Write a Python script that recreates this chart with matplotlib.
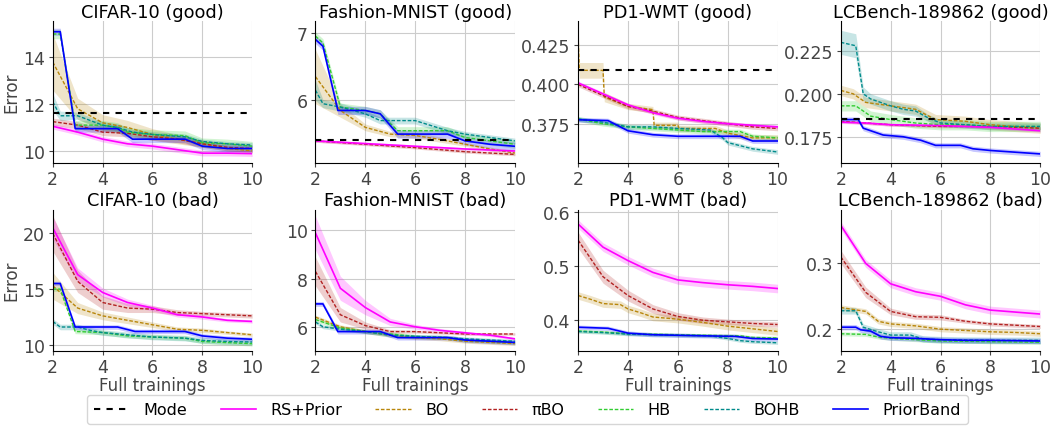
import matplotlib
matplotlib.use("Agg")
import matplotlib.pyplot as plt
import numpy as np

methods = ["Mode", "RS+Prior", "BO", "πBO", "HB", "BOHB", "PriorBand"]
colors = {"Mode": "black", "RS+Prior": "#ff00ff", "BO": "#b8860b", "πBO": "#b22222",
          "HB": "#32cd32", "BOHB": "#008b8b", "PriorBand": "#0000ff"}

titles = ["CIFAR-10 (good)", "Fashion-MNIST (good)", "PD1-WMT (good)", "LCBench-189862 (good)",
          "CIFAR-10 (bad)", "Fashion-MNIST (bad)", "PD1-WMT (bad)", "LCBench-189862 (bad)"]

# each series: (x, y, band half-width)
cifar_good = {
    "RS+Prior": ([2, 3, 4, 5, 6, 7, 8, 9, 10], [11.05, 10.8, 10.5, 10.3, 10.2, 10.05, 9.9, 9.9, 9.88], 0.12),
    "BO": ([2, 3, 4, 5, 6, 7, 8, 9, 10], [13.8, 11.8, 11.2, 11.0, 10.7, 10.5, 10.3, 10.1, 10.0],
           [1.2, 0.45, 0.35, 0.3, 0.25, 0.2, 0.15, 0.1, 0.1]),
    "πBO": ([2, 3, 4, 5, 6, 7, 8, 9, 10], [11.25, 11.1, 10.8, 10.75, 10.6, 10.5, 10.3, 10.15, 10.1], 0.15),
    "HB": ([2, 2.3, 2.9, 4, 4.6, 5, 6, 7.3, 8, 9, 10], [15.0, 15.0, 11.1, 11.1, 11.0, 10.8, 10.7, 10.65, 10.35, 10.3, 10.2], 0.2),
    "BOHB": ([2, 2.3, 3, 3.5, 4, 4.6, 5.2, 6, 7.3, 8, 9, 10],
             [12.1, 11.5, 11.5, 11.3, 11.1, 11.0, 10.8, 10.7, 10.6, 10.4, 10.3, 10.25],
             [0.35, 0.2, 0.15, 0.15, 0.15, 0.15, 0.12, 0.12, 0.12, 0.1, 0.1, 0.1]),
    "PriorBand": ([2, 2.3, 2.9, 4.6, 4.8, 5.2, 7.3, 8, 9, 10],
                  [15.1, 15.1, 10.95, 10.95, 10.8, 10.5, 10.5, 10.2, 10.1, 10.1], 0.15),
}
cifar_good_mode = 11.6

fmnist_good = {
    "RS+Prior": ([2, 4, 6, 8, 10], [5.4, 5.36, 5.32, 5.28, 5.25], 0.02),
    "BO": ([2, 3, 4, 5, 6, 7, 8, 9, 10], [6.35, 5.85, 5.6, 5.5, 5.48, 5.42, 5.35, 5.28, 5.22],
           [0.4, 0.1, 0.05, 0.04, 0.04, 0.04, 0.03, 0.03, 0.03]),
    "πBO": ([2, 4, 6, 8, 10], [5.4, 5.35, 5.3, 5.24, 5.2], 0.02),
    "HB": ([2, 2.3, 3, 4, 4.6, 5.3, 7.3, 8, 9, 10], [6.95, 6.85, 5.9, 5.85, 5.8, 5.55, 5.55, 5.45, 5.4, 5.35], 0.06),
    "BOHB": ([2, 2.3, 3, 4, 4.6, 6, 7.3, 8, 9, 10], [6.15, 5.95, 5.9, 5.8, 5.7, 5.7, 5.55, 5.5, 5.45, 5.4],
             [0.15, 0.06, 0.06, 0.05, 0.05, 0.05, 0.05, 0.04, 0.04, 0.04]),
    "PriorBand": ([2, 2.3, 2.9, 4, 4.6, 5.3, 7.3, 8, 9, 10], [6.9, 6.8, 5.85, 5.85, 5.8, 5.5, 5.5, 5.4, 5.35, 5.32], 0.06),
}
fmnist_good_mode = 5.41

pd1_good = {
    "RS+Prior": ([2, 3, 4, 5, 6, 7, 8, 9, 10], [0.401, 0.394, 0.387, 0.382, 0.3785, 0.3765, 0.375, 0.374, 0.373], 0.0012),
    "BO": ([2, 2.05, 3, 3.05, 4, 5, 5.05, 6, 6.05, 7.5, 8, 9, 10],
           [0.43, 0.409, 0.409, 0.392, 0.386, 0.384, 0.374, 0.374, 0.372, 0.372, 0.369, 0.366, 0.366],
           [0.01, 0.005, 0.005, 0.003, 0.002, 0.002, 0.002, 0.002, 0.002, 0.002, 0.002, 0.002, 0.002]),
    "πBO": ([2, 3, 4, 5, 6, 7, 8, 9, 10], [0.400, 0.393, 0.386, 0.383, 0.379, 0.377, 0.375, 0.373, 0.372], 0.0015),
    "HB": ([2, 3, 4, 5, 6, 7, 8.5, 9, 10], [0.378, 0.375, 0.373, 0.372, 0.371, 0.370, 0.370, 0.367, 0.366], 0.0015),
    "BOHB": ([2, 3, 4, 5, 6, 7.3, 7.8, 8, 9, 10], [0.378, 0.376, 0.373, 0.373, 0.372, 0.371, 0.366, 0.363, 0.359, 0.357], 0.0015),
    "PriorBand": ([2, 3.2, 4, 5, 6, 7, 8.5, 9, 10], [0.3775, 0.377, 0.3705, 0.368, 0.367, 0.367, 0.367, 0.364, 0.364], 0.0015),
}
pd1_good_mode = 0.4095

lcb_good = {
    "RS+Prior": ([2, 3, 4, 6, 8, 10], [0.1835, 0.183, 0.182, 0.1815, 0.1805, 0.1785], 0.0008),
    "BO": ([2, 2.5, 3, 4, 5, 5.8, 7, 8, 9, 10], [0.202, 0.2, 0.195, 0.193, 0.191, 0.185, 0.184, 0.182, 0.181, 0.18], 0.003),
    "πBO": ([2, 3, 4, 6, 8, 10], [0.184, 0.183, 0.182, 0.181, 0.181, 0.18], 0.0008),
    "HB": ([2, 2.6, 3.2, 4, 5, 6, 7, 8, 10], [0.193, 0.193, 0.187, 0.185, 0.183, 0.182, 0.182, 0.181, 0.181], 0.003),
    "BOHB": ([2, 2.6, 2.9, 3.2, 4, 4.5, 5, 5.5, 6, 7, 8, 10],
             [0.230, 0.228, 0.200, 0.197, 0.193, 0.191, 0.190, 0.186, 0.183, 0.182, 0.181, 0.181],
             [0.007, 0.007, 0.004, 0.003, 0.003, 0.003, 0.003, 0.002, 0.002, 0.002, 0.002, 0.002]),
    "PriorBand": ([2, 2.7, 2.9, 3.3, 3.7, 4.5, 5.2, 5.8, 6.8, 7.3, 8, 9, 10],
                  [0.185, 0.185, 0.180, 0.178, 0.176, 0.175, 0.173, 0.170, 0.170, 0.168, 0.167, 0.166, 0.165], 0.0015),
}
lcb_good_mode = 0.1851

cifar_bad = {
    "RS+Prior": ([2, 3, 4, 5, 6, 7, 8, 9, 10], [20.5, 16.3, 14.7, 13.8, 13.3, 12.7, 12.5, 12.2, 12.1],
                 [1.0, 0.6, 0.4, 0.3, 0.25, 0.2, 0.2, 0.15, 0.15]),
    "BO": ([2, 3, 4, 5, 6, 7, 8, 9, 10], [15.3, 13.3, 12.6, 12.2, 11.8, 11.4, 11.3, 11.1, 10.9],
           [1.2, 0.5, 0.35, 0.3, 0.25, 0.2, 0.2, 0.15, 0.15]),
    "πBO": ([2, 3, 4, 5, 6, 7, 8, 9, 10], [20.0, 15.7, 13.8, 13.3, 13.2, 12.9, 12.8, 12.7, 12.6],
            [1.6, 1.0, 0.6, 0.4, 0.3, 0.25, 0.2, 0.2, 0.2]),
    "HB": ([2, 2.3, 2.9, 4, 5, 6, 7.3, 8, 10], [15.0, 15.0, 11.2, 11.1, 10.8, 10.7, 10.6, 10.3, 10.1], 0.2),
    "BOHB": ([2, 2.3, 3, 3.5, 4, 5, 6, 7.3, 8, 9, 10],
             [12.1, 11.6, 11.6, 11.3, 11.1, 10.9, 10.7, 10.6, 10.4, 10.3, 10.25], 0.25),
    "PriorBand": ([2, 2.3, 2.9, 4.6, 5.3, 7.3, 8, 9, 10], [15.5, 15.5, 11.6, 11.6, 11.2, 11.2, 10.8, 10.6, 10.5], 0.2),
}

fmnist_bad = {
    "RS+Prior": ([2, 3, 4, 5, 6, 7, 8, 9, 10], [9.9, 7.6, 6.8, 6.2, 6.0, 5.85, 5.75, 5.65, 5.5],
                 [0.7, 0.5, 0.3, 0.15, 0.1, 0.08, 0.06, 0.06, 0.05]),
    "BO": ([2, 3, 4, 5, 6, 7, 8, 9, 10], [6.4, 6.0, 5.8, 5.65, 5.55, 5.5, 5.4, 5.35, 5.3], 0.08),
    "πBO": ([2, 3, 4, 5, 6, 7, 8, 10], [8.3, 6.5, 6.05, 5.8, 5.8, 5.75, 5.7, 5.7],
            [0.6, 0.3, 0.15, 0.08, 0.06, 0.05, 0.05, 0.05]),
    "HB": ([2, 3, 4, 5, 6, 7.3, 8, 9, 10], [6.3, 5.95, 5.8, 5.7, 5.6, 5.55, 5.45, 5.4, 5.35], 0.08),
    "BOHB": ([2, 2.3, 3, 4, 5, 6, 7.3, 8, 9, 10], [6.2, 6.0, 5.9, 5.8, 5.65, 5.6, 5.55, 5.5, 5.45, 5.4], 0.08),
    "PriorBand": ([2, 2.3, 2.9, 4.6, 5.3, 7.3, 8, 9, 10], [6.95, 6.95, 5.8, 5.8, 5.55, 5.55, 5.45, 5.4, 5.35], 0.1),
}

pd1_bad = {
    "RS+Prior": ([2, 3, 4, 5, 6, 7, 8, 9, 10], [0.578, 0.535, 0.51, 0.488, 0.474, 0.469, 0.465, 0.462, 0.458], 0.008),
    "BO": ([2, 2.5, 3, 3.7, 4, 4.5, 5, 6, 7, 8, 9, 10],
           [0.445, 0.438, 0.43, 0.428, 0.42, 0.413, 0.405, 0.401, 0.395, 0.388, 0.383, 0.378], 0.007),
    "πBO": ([2, 3, 4, 5, 6, 7, 8, 9, 10], [0.548, 0.48, 0.445, 0.42, 0.406, 0.399, 0.396, 0.393, 0.391],
            [0.015, 0.012, 0.01, 0.008, 0.007, 0.006, 0.005, 0.005, 0.005]),
    "HB": ([2, 3, 4, 5, 6, 7, 8.5, 9, 10], [0.379, 0.377, 0.374, 0.373, 0.372, 0.371, 0.370, 0.367, 0.366], 0.003),
    "BOHB": ([2, 3, 4, 5, 6, 7.3, 8, 8.5, 9, 10], [0.378, 0.376, 0.373, 0.372, 0.371, 0.370, 0.365, 0.361, 0.359, 0.357], 0.003),
    "PriorBand": ([2, 3.2, 4, 5, 6, 7, 8.3, 9, 10], [0.386, 0.384, 0.375, 0.372, 0.371, 0.370, 0.369, 0.365, 0.364], 0.004),
}

lcb_bad = {
    "RS+Prior": ([2, 3, 4, 5, 6, 7, 8, 9, 10], [0.358, 0.300, 0.269, 0.257, 0.250, 0.237, 0.229, 0.226, 0.223], 0.006),
    "BO": ([2, 3, 3.5, 4, 5, 6, 7, 8, 9, 10], [0.233, 0.227, 0.212, 0.208, 0.205, 0.200, 0.198, 0.196, 0.195, 0.193], 0.004),
    "πBO": ([2, 3, 4, 5, 6, 7, 8, 9, 10], [0.310, 0.256, 0.227, 0.219, 0.218, 0.212, 0.208, 0.206, 0.204],
            [0.01, 0.008, 0.005, 0.004, 0.004, 0.003, 0.003, 0.003, 0.003]),
    "HB": ([2, 3, 3.5, 4, 5, 6, 8, 10], [0.193, 0.192, 0.188, 0.186, 0.184, 0.182, 0.181, 0.180], 0.003),
    "BOHB": ([2, 2.6, 2.9, 3.5, 4, 4.8, 5.3, 6, 8, 10],
             [0.228, 0.228, 0.203, 0.196, 0.191, 0.191, 0.185, 0.184, 0.183, 0.183], 0.005),
    "PriorBand": ([2, 2.6, 2.8, 3.2, 3.6, 4, 5, 6, 7, 8, 10],
                  [0.203, 0.203, 0.199, 0.197, 0.189, 0.187, 0.186, 0.184, 0.183, 0.183, 0.182], 0.004),
}

panels = [cifar_good, fmnist_good, pd1_good, lcb_good, cifar_bad, fmnist_bad, pd1_bad, lcb_bad]
modes = [cifar_good_mode, fmnist_good_mode, pd1_good_mode, lcb_good_mode, None, None, None, None]
ylims = [(9.5, 15.55), (5.08, 7.17), (0.3503, 0.4403), (0.160, 0.2423),
         (9.46, 22.14), (5.0, 10.87), (0.342, 0.605), (0.167, 0.382)]
yticks = [[10, 12, 14], [6, 7], [0.375, 0.400, 0.425], [0.175, 0.200, 0.225],
          [10, 15, 20], [6, 8, 10], [0.4, 0.5, 0.6], [0.2, 0.3]]
ytick_labels = [None, None, ["0.375", "0.400", "0.425"], ["0.175", "0.200", "0.225"],
                None, None, ["0.4", "0.5", "0.6"], ["0.2", "0.3"]]

dash_style = (0, (2.6, 1.3))
styles = {"RS+Prior": "-", "BO": dash_style, "πBO": dash_style, "HB": dash_style,
          "BOHB": dash_style, "PriorBand": "-"}
draw_order = ["BO", "πBO", "HB", "BOHB", "RS+Prior", "PriorBand"]

plt.rcParams["font.family"] = ["DejaVu Sans"]
fig, axes = plt.subplots(2, 4, figsize=(10.55, 4.27), dpi=100)
fig.subplots_adjust(left=0.050, right=0.986, top=0.948, bottom=0.176, wspace=0.317, hspace=0.333)

for i, ax in enumerate(axes.flat):
    data = panels[i]
    for m in draw_order:
        x, y, b = data[m]
        x = np.array(x)
        y = np.array(y)
        b = np.array(b) if np.ndim(b) else np.full(len(y), b)
        ax.fill_between(x, y - b, y + b, color=colors[m], alpha=0.22, lw=0)
        lw = 1.2 if styles[m] == "-" else 1.0
        ax.plot(x, y, color=colors[m], linestyle=styles[m], lw=lw)
    if modes[i] is not None:
        ax.axhline(modes[i], color="black", linestyle=(0, (3, 3)), lw=1.5)
    ax.set_xlim(2, 10)
    ax.set_ylim(*ylims[i])
    ax.set_xticks([2, 4, 6, 8, 10])
    ax.set_yticks(yticks[i])
    if ytick_labels[i] is not None:
        ax.set_yticklabels(ytick_labels[i])
    ax.set_title(titles[i], fontsize=12.8, pad=3)
    ax.grid(True, color="#cccccc", lw=0.8)
    ax.set_axisbelow(True)
    for s in ["top", "right"]:
        ax.spines[s].set_visible(False)
    ax.tick_params(labelsize=12.5, colors="#444444", labelcolor="#444444", length=3, pad=2.5)
    if i % 4 == 0:
        ax.set_ylabel("Error", fontsize=12, color="#444444", labelpad=2)
    if i >= 4:
        ax.set_xlabel("Full trainings", fontsize=12, color="#444444", labelpad=0)

handles = [plt.Line2D([], [], color="black", linestyle=(0, (3, 3)), lw=1.5)]
for m in methods[1:]:
    handles.append(plt.Line2D([], [], color=colors[m], linestyle=styles[m], lw=1.2 if styles[m] == "-" else 1.0))
fig.legend(handles, methods, loc="lower center", bbox_to_anchor=(0.5, 0.0), ncol=7,
           fontsize=11.5, frameon=True, columnspacing=2.1, handlelength=2.2,
           borderpad=0.45, handletextpad=0.9, borderaxespad=0.1)

fig.savefig("out.png", dpi=100)
